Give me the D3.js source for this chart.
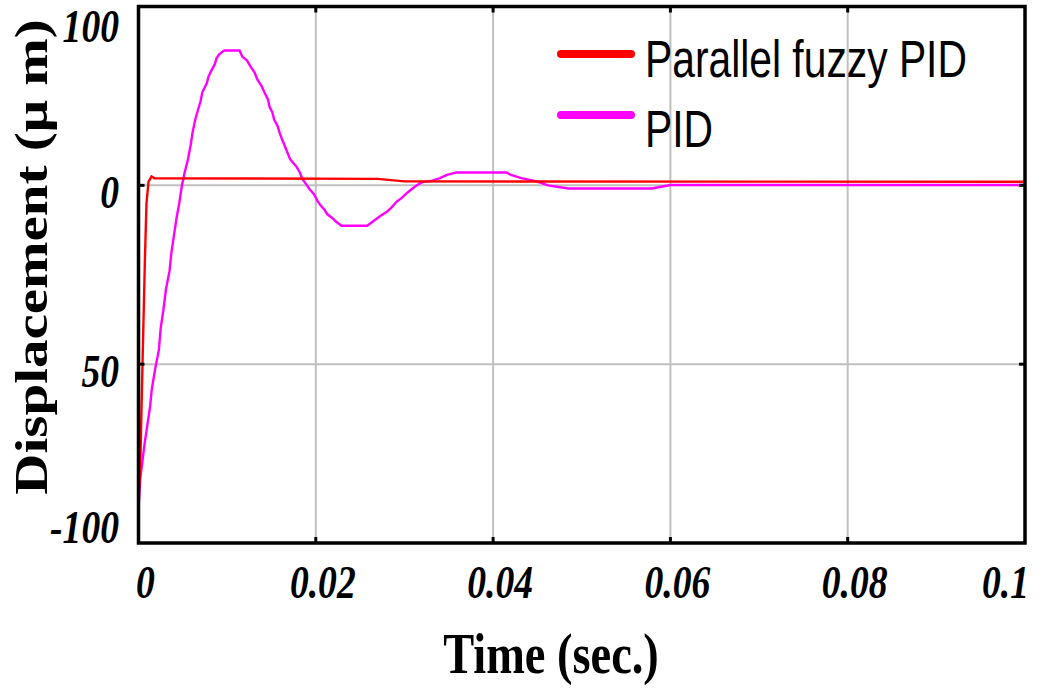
<!DOCTYPE html>
<html lang="">

<head>
  <meta charset="utf-8" />
  <style>
    body { margin: 0; background: white; }
    #chart1 { width: 1041px; height: 688px; }
  </style>
</head>

<body>
  <div id="chart1"></div>

  <script src="https://cdnjs.cloudflare.com/ajax/libs/d3/7.8.5/d3.min.js"></script>

  <script>
    // time (s) and displacement values
    const pidTime = [0, 0.0002, 0.0007, 0.001, 0.0013, 0.0015, 0.0019, 0.0023, 0.0025, 0.0028, 0.0031, 0.0035,
      0.0037, 0.004, 0.0043, 0.0046, 0.0049, 0.0052, 0.0056, 0.0059, 0.0061, 0.0064, 0.0067, 0.007, 0.0072,
      0.0077, 0.0079, 0.0082, 0.0086, 0.0088, 0.0091, 0.0095, 0.0097, 0.0114, 0.0117, 0.0122, 0.0127, 0.0131,
      0.0134, 0.0139, 0.0142, 0.0146, 0.0148, 0.0151, 0.0153, 0.0157, 0.0159, 0.0162, 0.0165, 0.0168, 0.0171,
      0.0178, 0.0182, 0.0185, 0.019, 0.0193, 0.0198, 0.0202, 0.0206, 0.021, 0.0213, 0.0218, 0.0223, 0.0229,
      0.0258, 0.0264, 0.0272, 0.028, 0.0285, 0.0291, 0.0297, 0.0302, 0.0308, 0.0314, 0.032, 0.033, 0.034,
      0.0348, 0.0359, 0.0415, 0.042, 0.0432, 0.0449, 0.0462, 0.0485, 0.0579, 0.06, 0.1];
    const pidValue = [-90.5, -82, -72, -67, -62, -57, -51, -46, -40, -35, -29, -24,
      -19, -14, -9, -5, 0, 3.5, 7.5, 11.5, 14.8, 18.4, 21, 23.5, 26,
      28.5, 30.4, 32, 33.8, 35.5, 36.6, 37.4, 37.7, 37.7, 36, 35, 33, 31.5,
      29.6, 27.7, 26, 24, 21.8, 20.4, 18.4, 16.5, 14.8, 12.8, 11, 9.2, 7.3,
      5.3, 3.6, 1.7, 0, -1.1, -2.5, -4.4, -5.8, -6.9, -8.1, -9, -10.2, -11.3,
      -11.3, -10.2, -8.7, -7.4, -6.3, -4.6, -3.5, -2.3, -1.1, 0, 0.9, 1.2, 2,
      2.9, 3.6, 3.6, 2.9, 2, 1.1, 0, -0.9, -0.9, 0.1, 0.1];

    const fuzzyTime = [0, 0.00023, 0.00045, 0.00073, 0.0009, 0.00113, 0.00147, 0.0018, 0.027, 0.03, 0.1];
    const fuzzyValue = [-90, -75, -50, -20, -5, 1, 2.5, 2, 1.8, 1.1, 1.0];

    const xTicks = [0, 0.02, 0.04, 0.06, 0.08, 0.1];
    const xTickLabels = ["0", "0.02", "0.04", "0.06", "0.08", "0.1"];
    const yGrid = [0, -50];
    // the printed y labels sit where the original figure put them
    const yTickPos = [46.5, 0, -50, -93.7];
    const yTickLabels = ["100", "0", "50", "-100"];

    const seriesNames = ["Parallel fuzzy PID", "PID"];
    const seriesColors = ["#ff0000", "#ff00ff"];

    let width = 1041;
    let height = 688;
    const plotL = 138.5, plotR = 1025, plotT = 6.5, plotB = 543;
    const squeeze = 0.8; // the original figure is squashed horizontally

    const svg = d3.select("#chart1")
      .append("svg")
      .attr("width", width)
      .attr("height", height);

    const x = d3.scaleLinear().domain([0, 0.1]).range([plotL, plotR]);
    const y = d3.scaleLinear().domain([-100, 50]).range([plotB, plotT]);

    svg.append("defs").append("clipPath").attr("id", "plotClip")
      .append("rect")
      .attr("x", plotL).attr("y", plotT)
      .attr("width", plotR - plotL).attr("height", plotB - plotT);

    // grid lines
    svg.selectAll("line.vgrid")
      .data(xTicks.slice(1, -1))
      .join("line")
      .attr("class", "vgrid")
      .attr("x1", d => x(d)).attr("x2", d => x(d))
      .attr("y1", plotT).attr("y2", plotB)
      .attr("stroke", "#c0c0c0").attr("stroke-width", 2);

    svg.selectAll("line.hgrid")
      .data(yGrid)
      .join("line")
      .attr("class", "hgrid")
      .attr("x1", plotL).attr("x2", plotR)
      .attr("y1", d => y(d)).attr("y2", d => y(d))
      .attr("stroke", "#c0c0c0").attr("stroke-width", 2);

    // curves
    const line = d3.line().x(d => x(d[0])).y(d => y(d[1]));
    const pid = pidTime.map((t, i) => [t, pidValue[i]]);
    const fuzzy = fuzzyTime.map((t, i) => [t, fuzzyValue[i]]);

    const curves = svg.append("g").attr("clip-path", "url(#plotClip)");
    curves.append("path")
      .datum(pid)
      .attr("fill", "none")
      .attr("stroke", seriesColors[1])
      .attr("stroke-width", 2.4)
      .attr("d", line);
    curves.append("path")
      .datum(fuzzy)
      .attr("fill", "none")
      .attr("stroke", seriesColors[0])
      .attr("stroke-width", 2.4)
      .attr("d", line);

    // frame and small inner ticks
    svg.append("rect")
      .attr("x", plotL).attr("y", plotT)
      .attr("width", plotR - plotL).attr("height", plotB - plotT)
      .attr("fill", "none").attr("stroke", "black").attr("stroke-width", 3.5);

    const tk = 6;
    xTicks.slice(1, -1).forEach(t => {
      svg.append("line").attr("x1", x(t)).attr("x2", x(t)).attr("y1", plotB).attr("y2", plotB - tk)
        .attr("stroke", "black").attr("stroke-width", 3);
      svg.append("line").attr("x1", x(t)).attr("x2", x(t)).attr("y1", plotT).attr("y2", plotT + tk)
        .attr("stroke", "black").attr("stroke-width", 3);
    });
    yGrid.forEach(v => {
      svg.append("line").attr("x1", plotL).attr("x2", plotL + tk).attr("y1", y(v)).attr("y2", y(v))
        .attr("stroke", "black").attr("stroke-width", 3);
      svg.append("line").attr("x1", plotR).attr("x2", plotR - tk).attr("y1", y(v)).attr("y2", y(v))
        .attr("stroke", "black").attr("stroke-width", 3);
    });

    // tick labels (the last one is pulled in so it stays on the page)
    const lastTick = xTicks.length - 1;
    svg.selectAll("text.xtick")
      .data(xTicks)
      .join("text")
      .attr("class", "xtick")
      .attr("transform", (d, i) => i === lastTick
        ? `translate(1029,598) scale(${squeeze},1)`
        : `translate(${x(d) + 7},598) scale(${squeeze},1)`)
      .attr("text-anchor", (d, i) => i === lastTick ? "end" : "middle")
      .attr("font-family", "Liberation Serif")
      .attr("font-weight", "bold")
      .attr("font-style", "italic")
      .attr("font-size", 47)
      .text((d, i) => xTickLabels[i]);

    svg.selectAll("text.ytick")
      .data(yTickPos)
      .join("text")
      .attr("class", "ytick")
      .attr("transform", d => `translate(119,${y(d) + 23}) scale(${squeeze},1)`)
      .attr("text-anchor", "end")
      .attr("font-family", "Liberation Serif")
      .attr("font-weight", "bold")
      .attr("font-style", "italic")
      .attr("font-size", 47)
      .text((d, i) => yTickLabels[i]);

    // axis titles
    svg.append("text")
      .attr("transform", `translate(551,673) scale(${squeeze},1)`)
      .attr("text-anchor", "middle")
      .attr("font-family", "Liberation Serif")
      .attr("font-weight", "bold")
      .attr("font-size", 58)
      .text("Time (sec.)");

    svg.append("text")
      .attr("transform", `translate(47,257) scale(${squeeze},1) rotate(-90)`)
      .attr("text-anchor", "middle")
      .attr("font-family", "Liberation Serif")
      .attr("font-weight", "bold")
      .attr("font-size", 57)
      .text("Displacement (\u03bc m)");

    // legend
    const legendLineY = [54, 115];
    const legendTextY = [77, 147];
    seriesNames.forEach((name, i) => {
      svg.append("line")
        .attr("x1", 561).attr("x2", 631)
        .attr("y1", legendLineY[i]).attr("y2", legendLineY[i])
        .attr("stroke", seriesColors[i])
        .attr("stroke-width", 8)
        .attr("stroke-linecap", "round");
      svg.append("text")
        .attr("transform", `translate(645,${legendTextY[i]}) scale(${squeeze},1)`)
        .attr("font-family", "Liberation Sans")
        .attr("font-size", 51)
        .text(name);
    });
  </script>
</body>

</html>
